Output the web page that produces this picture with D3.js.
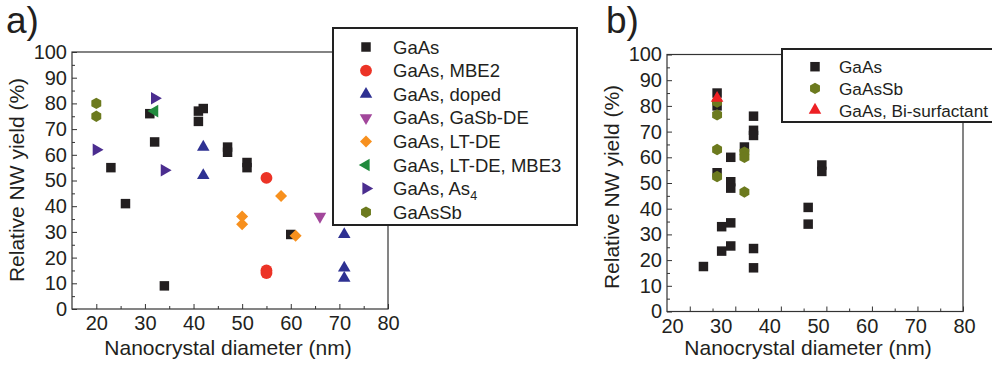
<!DOCTYPE html>
<html>
<head>
<meta charset="utf-8">
<script src="https://cdn.jsdelivr.net/npm/d3@7"></script>
<style>
  body { margin: 0; background: #fff; }
  svg { display: block; font-family: "Liberation Sans", Arial, sans-serif; }
</style>
</head>
<body>
<svg id="chart" width="992" height="365"></svg>
<script>
// ---- data: [diameter (nm), relative NW yield (%)] ----
// panel a
const aGaAs = [[23, 55], [26, 41], [31, 76], [32, 65], [34, 9], [41, 77], [42, 78], [41, 73],
               [47, 63], [47, 61], [51, 57], [51, 55], [60, 29]];
const aMBE2 = [[55, 51], [55, 15], [55, 14]];
const aDoped = [[42, 63], [42, 52], [71, 29], [71, 16], [71, 12]];
const aGaSbDE = [[66, 36]];
const aLTDE = [[50, 36], [50, 33], [58, 44], [61, 28.5]];
const aMBE3 = [[32, 77]];
const aAs4 = [[20, 62], [32, 82], [34, 54]];
const aGaAsSb = [[20, 80], [20, 75]];
// panel b
const bGaAs = [[23, 17.5], [26, 85], [26, 80], [26, 54], [27, 33], [27, 23.5], [29, 60], [29, 50.5],
               [29, 48], [29, 34.5], [29, 25.5], [32, 64], [34, 76], [34, 70.5], [34, 68.5],
               [34, 24.5], [34, 17], [46, 40.5], [46, 34], [49, 57], [49, 54.5]];
const bGaAsSb = [[26, 81.5], [26, 76.5], [26, 63], [26, 52.5], [32, 62], [32, 60], [32, 46.5]];
const bBi = [[26, 83]];

const xTicks = [20, 30, 40, 50, 60, 70, 80];
const yTicks = [0, 10, 20, 30, 40, 50, 60, 70, 80, 90, 100];

const ink = '#231f20';
const svg = d3.select('#chart');

// pointy-top hexagon for the GaAsSb marker
const hexagon = {
    draw(ctx, size) {
        const r = Math.sqrt(size / (1.5 * Math.sqrt(3)));
        for (let i = 0; i < 6; i++) {
            const a = Math.PI / 3 * i - Math.PI / 2;
            if (i) ctx.lineTo(r * Math.cos(a), r * Math.sin(a));
            else ctx.moveTo(r * Math.cos(a), r * Math.sin(a));
        }
        ctx.closePath();
    }
};

const mk = {
    square: {type: d3.symbolSquare, size: 90, rot: 0},
    circle: {type: d3.symbolCircle, size: 110, rot: 0},
    up: {type: d3.symbolTriangle, size: 68, rot: 0},
    down: {type: d3.symbolTriangle, size: 68, rot: 180},
    left: {type: d3.symbolTriangle, size: 68, rot: -90},
    right: {type: d3.symbolTriangle, size: 68, rot: 90},
    diamond: {type: d3.symbolSquare, size: 72, rot: 45},
    hex: {type: hexagon, size: 85, rot: 0}
};

const seriesA = [
    {name: 'GaAs', data: aGaAs, m: mk.square, color: '#231f20'},
    {name: 'GaAs, MBE2', data: aMBE2, m: mk.circle, color: '#ec3326'},
    {name: 'GaAs, doped', data: aDoped, m: mk.up, color: '#2e3192'},
    {name: 'GaAs, GaSb-DE', data: aGaSbDE, m: mk.down, color: '#a2479b'},
    {name: 'GaAs, LT-DE', data: aLTDE, m: mk.diamond, color: '#f7901e'},
    {name: 'GaAs, LT-DE, MBE3', data: aMBE3, m: mk.left, color: '#218a3d'},
    {name: 'GaAs, As', sub: '4', data: aAs4, m: mk.right, color: '#4b2d8f'},
    {name: 'GaAsSb', data: aGaAsSb, m: mk.hex, color: '#6c7a1e'}
];
const seriesB = [
    {name: 'GaAs', data: bGaAs, m: mk.square, color: '#231f20'},
    {name: 'GaAsSb', data: bGaAsSb, m: mk.hex, color: '#6c7a1e'},
    {name: 'GaAs, Bi-surfactant', data: bBi, m: mk.up, color: '#ed2024'}
];

function symbolPath(m) {
    return d3.symbol().type(m.type).size(m.size)();
}

function panel(cfg) {
    const g = svg.append('g');
    const x = d3.scaleLinear().domain([15, 80]).range(cfg.xr);
    const y = d3.scaleLinear().domain([0, 100]).range(cfg.yr);
    // scale used only to place the x tick labels (they sit off the ticks in panel b)
    const xLab = cfg.labRange ? d3.scaleLinear().domain([20, 80]).range(cfg.labRange) : x;

    g.append('rect')
        .attr('x', cfg.xr[0]).attr('y', cfg.yr[1])
        .attr('width', cfg.xr[1] - cfg.xr[0]).attr('height', cfg.yr[0] - cfg.yr[1])
        .attr('fill', 'none').attr('stroke', '#333').attr('stroke-width', 1.2);

    const clean = s => { s.select('.domain').remove(); s.selectAll('line').attr('stroke', '#333'); };

    // x ticks
    g.append('g').attr('transform', `translate(0,${cfg.yr[0]})`)
        .call(d3.axisBottom(x).tickValues(d3.range(25, 80, 10)).tickSize(-3).tickFormat(''))
        .call(clean);
    g.append('g').attr('transform', `translate(0,${cfg.yr[0]})`)
        .call(d3.axisBottom(x).tickValues(xTicks).tickSize(-5).tickFormat(''))
        .call(clean);
    g.append('g').attr('transform', `translate(0,${cfg.yr[0]})`)
        .call(d3.axisBottom(xLab).tickValues(xTicks).tickSize(0).tickPadding(7))
        .call(clean)
        .selectAll('text').attr('font-size', 20).attr('fill', ink).attr('font-family', null);

    // y ticks
    g.append('g').attr('transform', `translate(${cfg.xr[0]},0)`)
        .call(d3.axisLeft(y).tickValues(d3.range(5, 100, 10)).tickSize(-3).tickFormat(''))
        .call(clean);
    g.append('g').attr('transform', `translate(${cfg.xr[0]},0)`)
        .call(d3.axisLeft(y).tickValues(yTicks).tickSize(-5).tickPadding(5))
        .call(clean)
        .selectAll('text').attr('font-size', 20).attr('fill', ink).attr('font-family', null);

    // axis titles
    g.append('text')
        .attr('x', cfg.xTitleX).attr('y', 355)
        .attr('text-anchor', 'middle').attr('font-size', 21).attr('fill', ink)
        .text('Nanocrystal diameter (nm)');
    g.append('text')
        .attr('transform', `translate(${cfg.yTitleX},${cfg.yTitleY}) rotate(-90)`)
        .attr('text-anchor', 'middle').attr('font-size', 21).attr('fill', ink)
        .text('Relative NW yield (%)');

    // panel letter
    g.append('text')
        .attr('x', cfg.letterX).attr('y', 33)
        .attr('font-size', 37).attr('fill', ink)
        .text(cfg.letter);

    // points
    cfg.series.forEach(s => {
        g.append('g').selectAll('path')
            .data(s.data)
            .join('path')
            .attr('d', symbolPath(s.m))
            .attr('fill', s.color)
            .attr('transform', d => `translate(${x(d[0])},${y(d[1])}) rotate(${s.m.rot})`);
    });

    // legend
    const L = cfg.legend;
    const lg = g.append('g');
    lg.append('rect')
        .attr('x', L.x).attr('y', L.y).attr('width', L.w).attr('height', L.h)
        .attr('fill', '#fff').attr('stroke', '#222').attr('stroke-width', 2);
    cfg.series.forEach((s, i) => {
        const cy = L.y0 + i * L.step;
        lg.append('path')
            .attr('d', symbolPath(s.m))
            .attr('fill', s.color)
            .attr('transform', `translate(${L.sx},${cy}) rotate(${s.m.rot})`);
        const t = lg.append('text')
            .attr('x', L.tx).attr('y', cy + 6.5)
            .attr('font-size', L.fs).attr('fill', ink)
            .text(s.name);
        if (s.sub) {
            t.append('tspan').attr('dy', 5).attr('font-size', L.fs * 0.68).text(s.sub);
        }
    });
}

panel({
    letter: 'a)', letterX: 6,
    xr: [72, 388], yr: [309, 52],
    xTitleX: 228, yTitleX: 24, yTitleY: 180,
    series: seriesA,
    legend: {x: 333, y: 28, w: 244, h: 197, y0: 47, step: 23.6, sx: 366, tx: 393, fs: 18.5}
});

panel({
    letter: 'b)', letterX: 606,
    xr: [667, 963], yr: [311.5, 54.5],
    labRange: [672, 964],
    xTitleX: 808, yTitleX: 619, yTitleY: 187,
    series: seriesB,
    legend: {x: 782, y: 49, w: 220, h: 73, y0: 66.7, step: 21.7, sx: 815, tx: 839, fs: 17.2}
});
</script>
</body>
</html>
